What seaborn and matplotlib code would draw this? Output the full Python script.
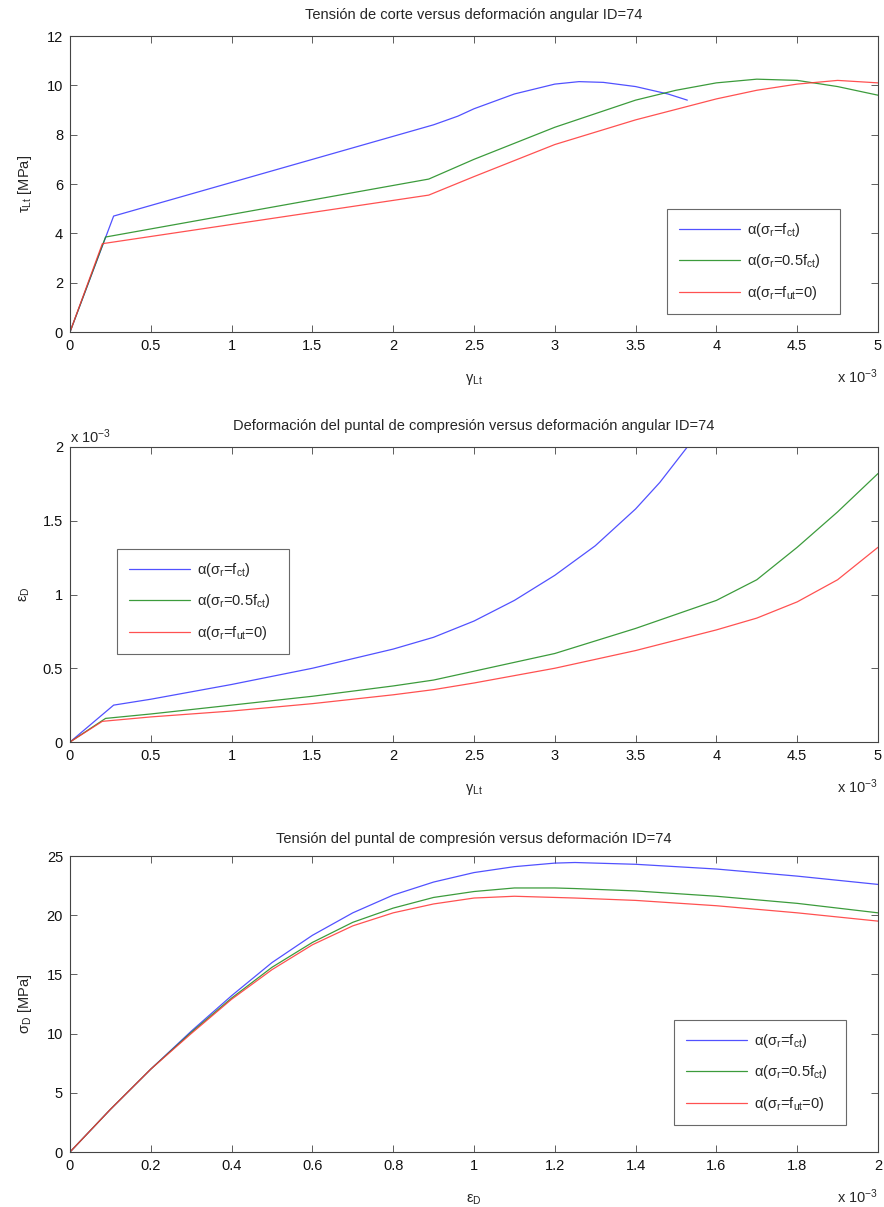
import matplotlib
matplotlib.use("Agg")
import matplotlib.pyplot as plt
import seaborn as sns
import pandas as pd
import numpy as np

sns.set_theme(style="white")
plt.rcParams['font.family'] = ['Liberation Sans', 'DejaVu Sans']
plt.rcParams['mathtext.fontset'] = 'custom'
plt.rcParams['mathtext.rm'] = 'Liberation Sans'
plt.rcParams['mathtext.it'] = 'Liberation Sans'
plt.rcParams['mathtext.default'] = 'regular'

labels = [r'α(σ$_r$=f$_{ct}$)', r'α(σ$_r$=0.5f$_{ct}$)', r'α(σ$_r$=f$_{ut}$=0)']
colors = ['#3333ff', '#1a8a1a', '#ff3333']

# Plot 1: shear stress vs angular strain (x in 1e-3)
g1_blue_x = [0, 0.27, 2.25, 2.4, 2.5, 2.75, 3.0, 3.15, 3.3, 3.5, 3.7, 3.82]
g1_blue_y = [0, 4.7, 8.4, 8.75, 9.05, 9.65, 10.05, 10.15, 10.12, 9.95, 9.65, 9.4]
g1_green_x = [0, 0.22, 2.22, 2.5, 3.0, 3.5, 3.75, 4.0, 4.25, 4.5, 4.75, 5.0]
g1_green_y = [0, 3.85, 6.2, 7.0, 8.3, 9.4, 9.8, 10.1, 10.25, 10.2, 9.95, 9.6]
g1_red_x = [0, 0.2, 2.22, 2.5, 3.0, 3.5, 4.0, 4.25, 4.5, 4.75, 5.0]
g1_red_y = [0, 3.58, 5.55, 6.3, 7.6, 8.6, 9.45, 9.8, 10.05, 10.2, 10.1]

# Plot 2: strut strain (1e-3) vs angular strain (1e-3)
g2_blue_x = [0, 0.27, 0.5, 1.0, 1.5, 2.0, 2.25, 2.5, 2.75, 3.0, 3.25, 3.5, 3.65, 3.82]
g2_blue_y = [0, 0.25, 0.29, 0.39, 0.5, 0.63, 0.71, 0.82, 0.96, 1.13, 1.33, 1.58, 1.76, 2.0]
g2_green_x = [0, 0.22, 0.5, 1.0, 1.5, 2.0, 2.25, 2.5, 3.0, 3.5, 4.0, 4.25, 4.5, 4.75, 5.0]
g2_green_y = [0, 0.16, 0.19, 0.25, 0.31, 0.38, 0.42, 0.48, 0.6, 0.77, 0.96, 1.1, 1.32, 1.56, 1.82]
g2_red_x = [0, 0.2, 0.5, 1.0, 1.5, 2.0, 2.25, 2.5, 3.0, 3.5, 4.0, 4.25, 4.5, 4.75, 5.0]
g2_red_y = [0, 0.14, 0.17, 0.21, 0.26, 0.32, 0.355, 0.4, 0.5, 0.62, 0.76, 0.84, 0.95, 1.1, 1.32]

# Plot 3: strut stress vs strut strain (1e-3)
g3_x = [0, 0.1, 0.2, 0.3, 0.4, 0.5, 0.6, 0.7, 0.8, 0.9, 1.0, 1.1, 1.2, 1.25, 1.4, 1.6, 1.8, 2.0]
g3_blue_y = [0, 3.6, 7.0, 10.2, 13.2, 16.0, 18.3, 20.2, 21.7, 22.8, 23.6, 24.1, 24.4, 24.45, 24.3, 23.9, 23.3, 22.6]
g3_green_y = [0, 3.6, 7.0, 10.1, 13.0, 15.6, 17.7, 19.4, 20.6, 21.5, 22.0, 22.3, 22.3, 22.25, 22.05, 21.6, 21.0, 20.2]
g3_red_y = [0, 3.6, 7.0, 10.0, 12.9, 15.4, 17.5, 19.1, 20.2, 20.95, 21.45, 21.6, 21.5, 21.45, 21.25, 20.8, 20.2, 19.5]

W, H = 884, 1207
fig = plt.figure(figsize=(W / 100, H / 100), dpi=100)

def ax_rect(l, t, r, b):
    return [l / W, 1 - b / H, (r - l) / W, (b - t) / H]

ax1 = fig.add_axes(ax_rect(70, 36, 878, 332))
ax2 = fig.add_axes(ax_rect(70, 447, 878, 742))
ax3 = fig.add_axes(ax_rect(70, 856, 878, 1152))

def draw(ax, series):
    frames = []
    for (x, y), lab in zip(series, labels):
        frames.append(pd.DataFrame({'x': x, 'y': y, 'serie': lab}))
    df = pd.concat(frames, ignore_index=True)
    sns.lineplot(data=df, x='x', y='y', hue='serie', palette=dict(zip(labels, colors)),
                 sort=False, estimator=None, ax=ax, linewidth=0.9, alpha=0.85, legend=True)

draw(ax1, [(g1_blue_x, g1_blue_y), (g1_green_x, g1_green_y), (g1_red_x, g1_red_y)])
draw(ax2, [(g2_blue_x, g2_blue_y), (g2_green_x, g2_green_y), (g2_red_x, g2_red_y)])
draw(ax3, [(g3_x, g3_blue_y), (g3_x, g3_green_y), (g3_x, g3_red_y)])

fs = 10.5
def style(ax, xlim, ylim, xticks, yticks, xtl, ytl):
    ax.set_xlim(*xlim)
    ax.set_ylim(*ylim)
    ax.set_xticks(xticks)
    ax.set_yticks(yticks)
    ax.set_xticklabels(xtl, fontsize=fs)
    ax.set_yticklabels(ytl, fontsize=fs)
    ax.tick_params(direction='in', length=5, width=0.6, color='#444444',
                   top=True, right=True, bottom=True, left=True, pad=5, labelcolor='#111111')
    for s in ax.spines.values():
        s.set_color('#444444')
        s.set_linewidth(0.8)

def fmt(v):
    return '%g' % v

xt1 = [0, 0.5, 1, 1.5, 2, 2.5, 3, 3.5, 4, 4.5, 5]
style(ax1, (0, 5), (0, 12), xt1, list(range(0, 13, 2)), [fmt(v) for v in xt1], [str(v) for v in range(0, 13, 2)])
yt2 = [0, 0.5, 1, 1.5, 2]
style(ax2, (0, 5), (0, 2), xt1, yt2, [fmt(v) for v in xt1], [fmt(v) for v in yt2])
xt3 = [0, 0.2, 0.4, 0.6, 0.8, 1, 1.2, 1.4, 1.6, 1.8, 2]
style(ax3, (0, 2), (0, 25), xt3, list(range(0, 26, 5)), [fmt(v) for v in xt3], [str(v) for v in range(0, 26, 5)])

ax1.set_title('Tensión de corte versus deformación angular ID=74', fontsize=fs, pad=12)
ax2.set_title('Deformación del puntal de compresión versus deformación angular ID=74', fontsize=fs, pad=12)
ax3.set_title('Tensión del puntal de compresión versus deformación ID=74', fontsize=fs, pad=9)

ax1.set_xlabel(r'γ$_{Lt}$', fontsize=fs, labelpad=14)
ax1.set_ylabel(r'τ$_{Lt}$ [MPa]', fontsize=fs, labelpad=9)
ax2.set_xlabel(r'γ$_{Lt}$', fontsize=fs, labelpad=14)
ax2.set_ylabel(r'ε$_D$', fontsize=fs, labelpad=8)
ax3.set_xlabel(r'ε$_D$', fontsize=fs, labelpad=14)
ax3.set_ylabel(r'σ$_D$ [MPa]', fontsize=fs, labelpad=9)

for ax in (ax1, ax2, ax3):
    ax.text(1.0, -0.15, r'x 10$^{-3}$', transform=ax.transAxes, ha='right', va='center', fontsize=fs)
ax2.text(0.0, 1.035, r'x 10$^{-3}$', transform=ax2.transAxes, ha='left', va='center', fontsize=fs)

def legend(ax, l, t, r, b):
    x0, y0 = l / W, 1 - b / H
    leg = ax.legend(title=None, loc='lower left',
                    bbox_to_anchor=(x0, y0, (r - l) / W, (b - t) / H), bbox_transform=fig.transFigure,
                    mode='expand', fontsize=fs, frameon=True, fancybox=False,
                    handlelength=4.2, labelspacing=0.95, borderpad=0.8, handletextpad=0.5, borderaxespad=0)
    leg.get_frame().set_edgecolor('#444444')
    leg.get_frame().set_linewidth(0.8)

legend(ax1, 667, 203, 840, 314)
legend(ax2, 117, 543, 289, 654)
legend(ax3, 674, 1013, 846, 1125)

fig.savefig('out.png', dpi=100, facecolor='white')
